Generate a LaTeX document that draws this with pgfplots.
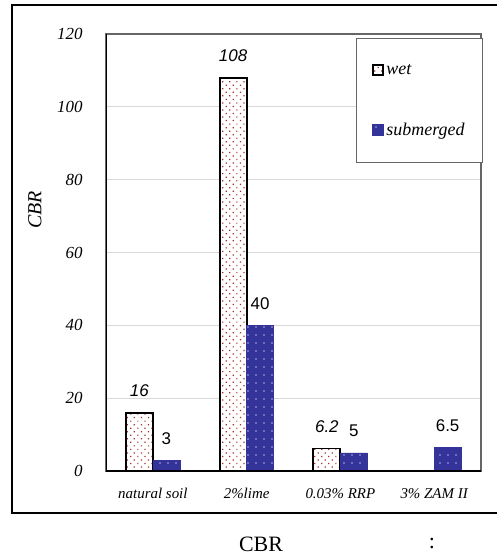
\documentclass[border=0pt]{standalone}
\usepackage{pgfplots}
\pgfplotsset{compat=1.18}
\usetikzlibrary{patterns.meta}
\usepackage{fontspec}
\setmainfont{Liberation Serif}
\newfontfamily\arial{Liberation Sans}
\definecolor{subblue}{RGB}{51,51,153}
\definecolor{wetdot}{RGB}{170,45,45}
\definecolor{subdot}{RGB}{170,170,225}
\begin{document}
\begin{tikzpicture}
\useasboundingbox (0bp,0bp) rectangle (497bp,-559bp);
\draw[line width=2bp] (497bp,-5bp) -- (12bp,-5bp) -- (12bp,-513bp) -- (497bp,-513bp);
\begin{axis}[
 at={(106bp,-471bp)}, anchor=south west,
 scale only axis, width=375bp, height=437bp,
 xmin=-0.5, xmax=3.5, ymin=0, ymax=120,
 ybar=0pt, bar width=27bp,
 xtick={0,1,2,3}, xticklabels={natural soil, 2\%lime, 0.03\% RRP, 3\% ZAM II},
 ytick={0,20,...,120},
 major tick length=0pt,
 ymajorgrids, grid style={black!15, line width=0.8bp},
 axis line style={draw=black!60, line width=1.2bp},
 /pgf/number format/assume math mode=true,
 xticklabel style={font=\fontsize{15}{15}\selectfont\itshape, yshift=-14bp},
 yticklabel style={font=\fontsize{17}{17}\selectfont\itshape, xshift=-20bp},
 ylabel={CBR}, ylabel style={font=\fontsize{20}{20}\selectfont\itshape, at={(axis description cs:-0.19,0.597)}, anchor=center},
 legend style={at={(axis description cs:1.005,0.991)}, anchor=north east, draw=black!60, line width=0.8bp, font=\fontsize{18}{18}\selectfont\itshape, inner xsep=16bp, inner ysep=24bp, row sep=43bp, cells={anchor=west}},
 legend image code/.code={\draw[#1, line width=2.2bp] (0bp,-5bp) rectangle (10bp,5bp);},
 every node near coord/.append style={anchor=base, inner sep=0pt, yshift=16bp},
]
\addplot[fill=white, draw=black, line width=1.8bp,
  postaction={pattern={Dots[distance=5bp, radius=0.85bp, angle=45]}, pattern color=wetdot},
  nodes near coords,
  every node near coord/.append style={font=\arial\itshape\fontsize{17}{17}\selectfont, text=black}]
  coordinates {(0,16) (1,108) (2,6.2)};
\addplot[fill=subblue, draw=subblue, line width=0.5bp,
  postaction={pattern={Dots[distance=8bp, radius=0.85bp]}, pattern color=subdot},
  nodes near coords,
  every node near coord/.append style={font=\arial\fontsize{17}{17}\selectfont, text=black}]
  coordinates {(0,3) (1,40) (2,5) (3,6.5)};
\legend{wet, submerged}
\draw[line width=2bp, black] (rel axis cs:0,1) -- (rel axis cs:0,0) -- (rel axis cs:1,0);
\end{axis}
\node[font=\fontsize{22}{22}\selectfont] at (261bp,-544bp) {CBR};
\node[font=\fontsize{22}{22}\selectfont] at (432bp,-544bp) {:};
\end{tikzpicture}
\end{document}
